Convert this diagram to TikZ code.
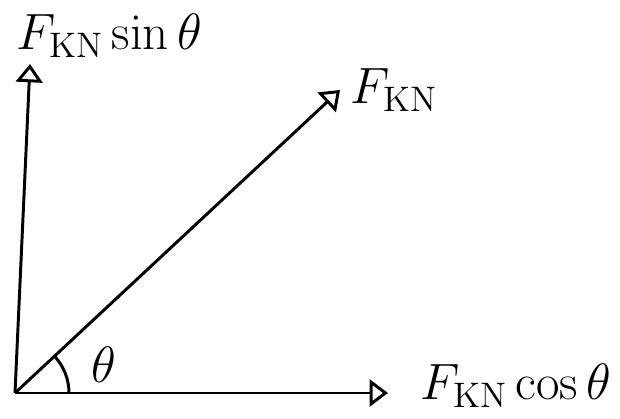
\documentclass[tikz,border=0pt]{standalone}
\usetikzlibrary{arrows.meta}
\begin{document}
\begin{tikzpicture}[x=0.025cm,y=-0.025cm,line width=2.1pt,
  vec/.style={-{Triangle[open,length=13pt,width=19pt]}},
  lbl/.style={font=\huge,scale=1.75}]
  \useasboundingbox (0,0) rectangle (620,419);
  \coordinate (O) at (15,393);
  \coordinate (Ty) at (30,64);
  \coordinate (Tx) at (388,393);
  \coordinate (Tf) at (340,90);
  \draw[vec] (O) -- (Ty);
  \draw[vec] (O) -- (Tx);
  \draw[vec] (O) -- (Tf);
  \draw (69,393) arc (0:-43:54);
  \node[lbl] (th) at (104,365) {$\theta$};
  \node[lbl,anchor=west] (fy) at (6,36) {$F_{\mathrm{KN}}\sin\theta$};
  \node[lbl,anchor=west] (ff) at (340,90) {$F_{\mathrm{KN}}$};
  \node[lbl,anchor=west] (fx) at (410,386) {$F_{\mathrm{KN}}\cos\theta$};
\end{tikzpicture}
\end{document}
